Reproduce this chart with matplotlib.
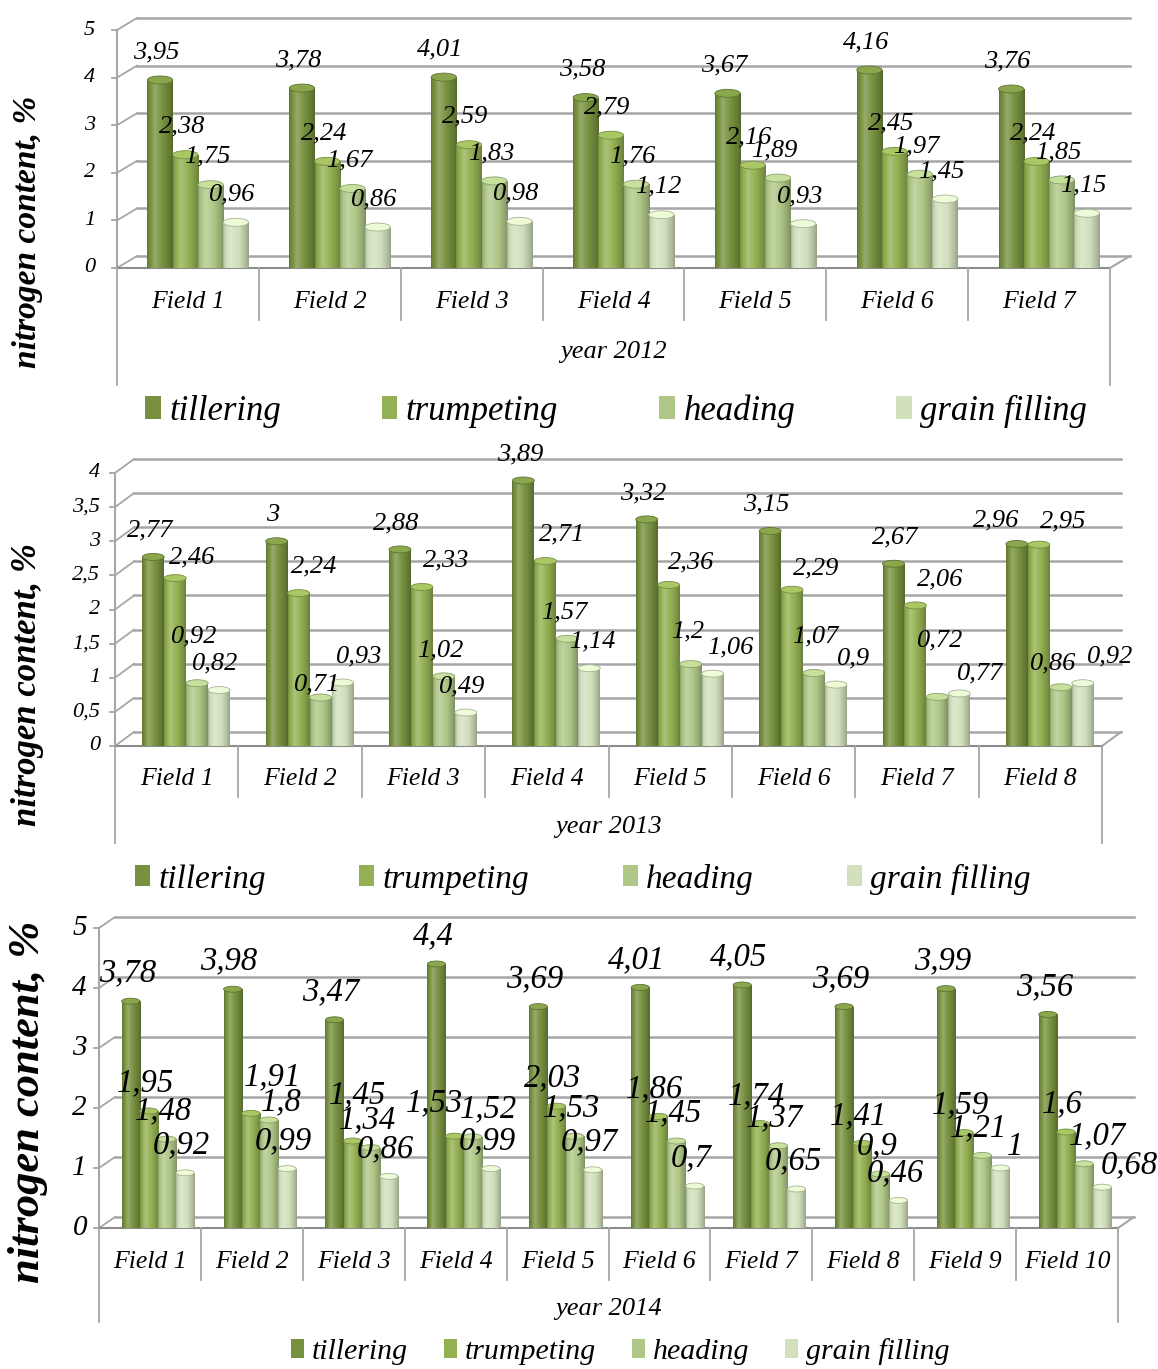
import numpy as np
import matplotlib.pyplot as plt
from matplotlib.patches import Ellipse, Patch
from matplotlib.colors import to_rgb

W, H = 1158, 1369

stages = ['tillering', 'trumpeting', 'heading', 'grain filling']
colors = ['#77913f', '#93b052', '#afc787', '#d2e0bd']
fields = ['Field %d' % i for i in range(1, 11)]

# 2012, fields 1-7
tillering_2012 = [3.95, 3.78, 4.01, 3.58, 3.67, 4.16, 3.76]
trumpeting_2012 = [2.38, 2.24, 2.59, 2.79, 2.16, 2.45, 2.24]
heading_2012 = [1.75, 1.67, 1.83, 1.76, 1.89, 1.97, 1.85]
grain_2012 = [0.96, 0.86, 0.98, 1.12, 0.93, 1.45, 1.15]

# 2013, fields 1-8
tillering_2013 = [2.77, 3.0, 2.88, 3.89, 3.32, 3.15, 2.67, 2.96]
trumpeting_2013 = [2.46, 2.24, 2.33, 2.71, 2.36, 2.29, 2.06, 2.95]
heading_2013 = [0.92, 0.71, 1.02, 1.57, 1.2, 1.07, 0.72, 0.86]
grain_2013 = [0.82, 0.93, 0.49, 1.14, 1.06, 0.9, 0.77, 0.92]

# 2014, fields 1-10
tillering_2014 = [3.78, 3.98, 3.47, 4.4, 3.69, 4.01, 4.05, 3.69, 3.99, 3.56]
trumpeting_2014 = [1.95, 1.91, 1.45, 1.53, 2.03, 1.86, 1.74, 1.41, 1.59, 1.6]
heading_2014 = [1.48, 1.8, 1.34, 1.52, 1.53, 1.45, 1.37, 0.9, 1.21, 1.07]
grain_2014 = [0.92, 0.99, 0.86, 0.99, 0.97, 0.7, 0.65, 0.46, 1.0, 0.68]

# label shifts in pixels (field, stage) -> (right, down), to keep labels apart
nudge_2013 = {(0, 1): (20, 6), (0, 2): (0, -20), (1, 1): (19, 0), (1, 2): (0, 13),
              (1, 3): (20, 0), (2, 1): (28, 0), (3, 1): (20, 0), (3, 3): (6, 0),
              (4, 1): (26, 4), (4, 2): (0, -6), (4, 3): (21, 0), (5, 1): (28, 5),
              (5, 2): (5, -10), (5, 3): (21, 0), (6, 0): (5, 0), (6, 1): (28, 0),
              (6, 2): (6, -30), (6, 3): (24, 6), (7, 0): (-17, 3), (7, 1): (28, 3),
              (7, 2): (-4, 3), (7, 3): (31, 0)}
nudge_2014 = {(1, 1): (25, -9), (1, 2): (16, 10), (2, 1): (8, -18), (3, 1): (-17, -5),
              (3, 2): (19, 0), (8, 3): (18, 7), (9, 2): (17, 0), (9, 3): (31, 6)}

plt.rcParams['font.family'] = 'Liberation Serif'
plt.rcParams['font.style'] = 'italic'

fig = plt.figure(figsize=(W / 100, H / 100), dpi=100)
GRID = '#a6a6a6'
PT = 72 / 100   # points per pixel


def fmt(v):
    return ('%g' % round(v, 2)).replace('.', ',')


def cylinder(color, n=48):
    # horizontal shading so the bars look round
    t = np.linspace(0, 1, n)
    s = np.interp(t, [0, 0.07, 0.3, 0.65, 0.9, 1], [0.8, 0.95, 1.12, 0.98, 0.82, 0.72])
    c = np.array(to_rgb(color))
    rgb = np.where(s[:, None] > 1, c + (1 - c) * (s[:, None] - 1) * 2.0, c * s[:, None])
    return np.clip(rgb, 0, 1)[None, :, :]


def draw_panel(box, series, year, ymax, ystep, depth, cap, fs, nudge=None):
    nudge = nudge or {}
    left, right, y0, ytop = box
    ax = fig.add_axes([left / W, 1 - y0 / H, (right - left) / W, (y0 - ytop) / H])
    n = len(series[0])
    px = n / (right - left)        # data units per pixel, x
    py = ymax / (y0 - ytop)        # data units per pixel, y
    ddx, ddy = depth[0] * px, depth[1] * py

    # back wall gridlines and the slanted ticks on the side wall
    for t in np.arange(0, ymax + ystep / 2, ystep):
        ax.plot([ddx, n + ddx], [t + ddy, t + ddy], color=GRID, lw=1.8, clip_on=False, zorder=1)
        ax.plot([0, ddx], [t, t + ddy], color=GRID, lw=1.3, clip_on=False, zorder=1)
        ax.plot([-5 * px, 0], [t, t], color=GRID, lw=1.3, clip_on=False, zorder=1)
        ax.text(-fs['tick_pad'] * px, t, fmt(t), ha='right', va='center',
                fontsize=fs['tick'])
    ax.plot([0, 0], [0, ymax], color=GRID, lw=1.5, clip_on=False, zorder=1)
    ax.plot([n, n + ddx], [0, ddy], color=GRID, lw=1.5, clip_on=False, zorder=1)

    # category axis with the two label rows
    ax.plot([0, n], [0, 0], color='#8c8c8c', lw=1.5, clip_on=False, zorder=2)
    for i in range(n + 1):
        low = fs['outer'] if i in (0, n) else fs['row']
        ax.plot([i, i], [0, -low * py], color=GRID, lw=1.3, clip_on=False)
    for i in range(n):
        ax.text(i + 0.5, -fs['cat_y'] * py, fields[i], ha='center', va='center',
                fontsize=fs['cat'])
    ax.text(n / 2, -fs['year_y'] * py, 'year %d' % year, ha='center', va='center',
            fontsize=fs['year'])

    # cylinder bars
    bw = 0.178
    shift = depth[0] / 2 * px
    for k, vals in enumerate(series):
        xs = np.arange(n) + 0.5 + shift + (k - 1.5) * bw
        bars = ax.bar(xs, vals, width=bw, color=colors[k], zorder=3, linewidth=0)
        img = cylinder(colors[k])
        base = np.array(to_rgb(colors[k]))
        for i, (rect, v) in enumerate(zip(bars, vals)):
            x0, w, h = rect.get_x(), rect.get_width(), rect.get_height()
            im = ax.imshow(img, extent=[x0, x0 + w, 0, h], aspect='auto', zorder=3.1,
                           interpolation='bilinear')
            im.set_clip_path(rect)
            ax.add_patch(Ellipse((x0 + w / 2, 0), w, cap * py, facecolor=img[0, 20] * 0.9,
                                 edgecolor='none', zorder=2.9))
            ax.add_patch(Ellipse((x0 + w / 2, h), w, cap * py,
                                 facecolor=np.clip(base * 1.08 + 0.04, 0, 1),
                                 edgecolor=base * 0.8, lw=0.6, zorder=3.2))
            dx, dy = nudge.get((i, k), (0, 0))
            ax.annotate(fmt(v), (x0 + w / 2, h),
                        xytext=(-2.5 + dx * PT, fs['lab_off'] - dy * PT),
                        textcoords='offset points', ha='center', va='center',
                        fontsize=fs['label'], zorder=10)

    ax.set_xlim(0, n)
    ax.set_ylim(0, ymax)
    ax.axis('off')
    return ax


def add_legend(cx, cy, size, spacing):
    handles = [Patch(facecolor=c, edgecolor='none') for c in colors]
    fig.legend(handles, stages, loc='center', bbox_to_anchor=(cx / W, 1 - cy / H),
               ncol=4, frameon=False, fontsize=size, handlelength=0.45,
               handleheight=0.6, handletextpad=0.25, columnspacing=spacing,
               borderaxespad=0, borderpad=0)


def y_title(y, size):
    fig.text(28 / W, 1 - y / H, 'nitrogen content, %', rotation=90, ha='center',
             va='center', fontsize=size, fontweight='bold')


fs12 = dict(tick=16, tick_pad=22, cat=18.5, year=19, label=19, lab_off=20,
            cat_y=34, row=52, year_y=84, outer=117)
draw_panel((117, 1110, 268, 30),
           [tillering_2012, trumpeting_2012, heading_2012, grain_2012],
           2012, 5, 1, (20, 12), 8, fs12)
add_legend(616, 411, 25, 2.9)
y_title(232, 24)

fs13 = dict(tick=16, tick_pad=15, cat=18.5, year=19, label=19, lab_off=19,
            cat_y=33, row=51, year_y=81, outer=97)
draw_panel((115, 1102, 746, 473),
           [tillering_2013, trumpeting_2013, heading_2013, grain_2013],
           2013, 4, 0.5, (19, 14), 7, fs13, nudge_2013)
add_legend(583, 879, 24, 2.8)
y_title(685, 25)

fs14 = dict(tick=21, tick_pad=12, cat=18.5, year=19, label=23.5, lab_off=20,
            cat_y=34, row=52, year_y=81, outer=94)
draw_panel((99, 1118, 1228, 928),
           [tillering_2014, trumpeting_2014, heading_2014, grain_2014],
           2014, 5, 1, (16, 11), 6, fs14, nudge_2014)
add_legend(620, 1352, 21.5, 1.2)
y_title(1102, 32)

fig.savefig('out.png', dpi=100)
